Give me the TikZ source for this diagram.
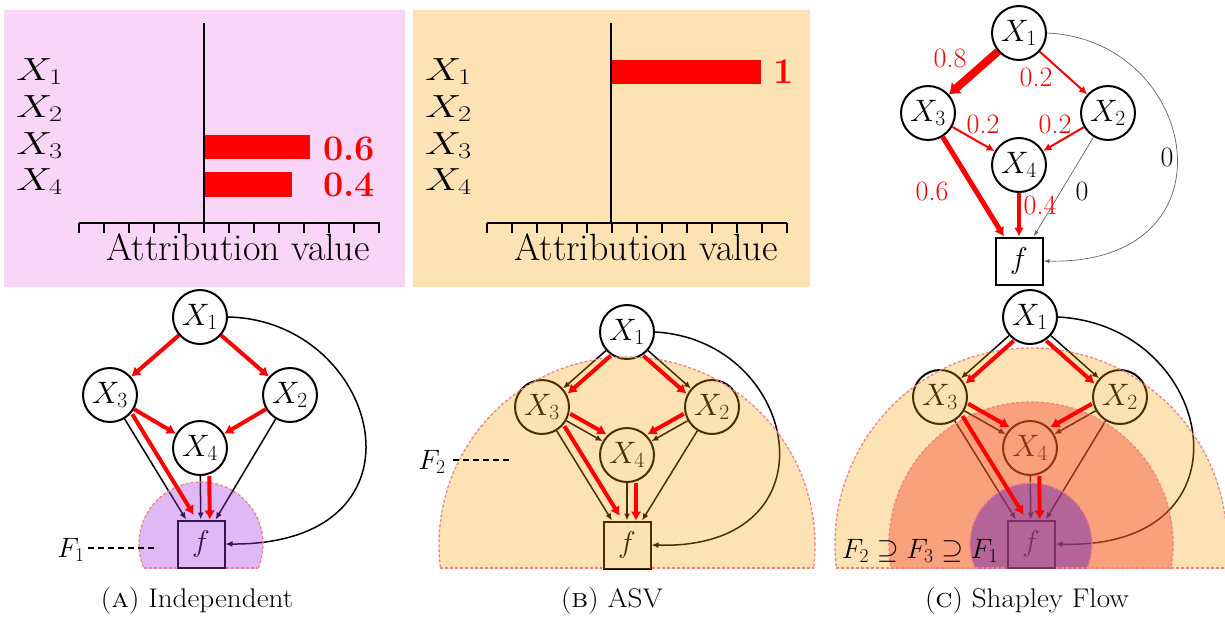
\RequirePackage{fix-cm}
\documentclass[tikz,border=0pt]{standalone}
\usetikzlibrary{arrows.meta}
\definecolor{pinkbg}{RGB}{249,214,247}
\definecolor{tanbg}{RGB}{253,226,180}
\definecolor{tanov}{RGB}{248,158,5}
\definecolor{salov}{RGB}{245,61,42}
\definecolor{purA}{RGB}{161,55,226}
\definecolor{purC}{RGB}{112,42,178}
\definecolor{rimc}{RGB}{244,130,130}
\definecolor{thingray}{RGB}{100,100,100}
\tikzset{
  vnode/.style={circle,draw,line width=2pt,fill=white,minimum size=54pt,inner sep=0pt,font=\fontsize{31}{34}\selectfont},
  fnode/.style={rectangle,draw,line width=2pt,fill=white,minimum size=47pt,inner sep=0pt,font=\fontsize{30}{34}\selectfont},
  redge/.style={red,line width=4pt,-{Latex[length=9pt,width=11pt]}},
  bedge/.style={black,line width=1.5pt,-{Latex[length=7pt,width=6pt]}},
  gedge/.style={thingray,line width=0.7pt,-{Latex[length=6pt,width=4pt]}},
  region/.style={draw=rimc,dash pattern=on 3pt off 2pt,line width=1.3pt},
  flab/.style={font=\fontsize{28}{30}\selectfont},
  elab/.style={font=\fontsize{28}{30}\selectfont,text=red,inner sep=0pt},
  ylab/.style={font=\fontsize{32}{34}\selectfont,anchor=base west,inner sep=0pt},
  axlab/.style={font=\fontsize{38}{40}\selectfont,anchor=base west,inner sep=0pt},
  barval/.style={font=\fontsize{36}{38}\selectfont\bfseries,text=red,anchor=west,inner sep=0pt},
  axline/.style={line width=1.5pt},
  captxt/.style={font=\fontsize{27}{30}\selectfont,anchor=base,inner sep=0pt},
  hint/.style={black,line width=1.5pt,dash pattern=on 6pt off 4pt},
}
\newcommand{\wx}[1]{\scalebox{1.27}[1]{$#1$}}
\newcommand{\wc}[1]{\scalebox{1.08}[1]{#1}}
\begin{document}
\begin{tikzpicture}[x=1pt,y=-1pt]
\useasboundingbox (0,0) rectangle (1225,616);

% ---------- top left bar chart ----------
\fill[pinkbg] (4,10) rectangle (405,287);
\fill[red] (204,135) rectangle (310,159);
\fill[red] (204,172) rectangle (292,197);
\draw[axline] (204,23) -- (204,223);
\draw[axline] (79,223) -- (380,223);
\foreach \i in {0,...,12} \draw[axline] (79+25*\i,223) -- ++(0,10);
\node[ylab] (pa1) at (16,80) {\wx{X_1}};
\node[ylab] (pa2) at (16,117) {\wx{X_2}};
\node[ylab] (pa3) at (16,154) {\wx{X_3}};
\node[ylab] (pa4) at (16,190) {\wx{X_4}};
\node[barval] (pv3) at (323,149) {0.6};
\node[barval] (pv4) at (323,185) {0.4};
\node[axlab] (pax) at (106,260) {Attribution value};

% ---------- top middle bar chart ----------
\fill[tanbg] (413,10) rectangle (810,287);
\fill[red] (611,60) rectangle (761,84);
\draw[axline] (611,23) -- (611,223);
\draw[axline] (487,223) -- (787,223);
\foreach \i in {0,...,12} \draw[axline] (487+25*\i,223) -- ++(0,10);
\node[ylab] (pb1) at (425,80) {\wx{X_1}};
\node[ylab] (pb2) at (425,117) {\wx{X_2}};
\node[ylab] (pb3) at (425,154) {\wx{X_3}};
\node[ylab] (pb4) at (425,190) {\wx{X_4}};
\node[barval] (pv1) at (773,72) {1};
\node[axlab] (pbx) at (514,260) {Attribution value};

% ---------- top right flow graph ----------
\node[vnode] (t1) at (1019,33) {$X_1$};
\node[vnode] (t3) at (928,113) {$X_3$};
\node[vnode] (t2) at (1108,113) {$X_2$};
\node[vnode] (t4) at (1019,165) {$X_4$};
\node[fnode] (tf) at (1019,261) {$f$};
\draw[red,line width=8pt,-{Latex[length=10pt,width=16pt]}] (t1) -- (t3);
\draw[red,line width=2pt,-{Latex[length=8pt,width=8pt]}] (t1) -- (t2);
\draw[red,line width=2pt,-{Latex[length=8pt,width=8pt]}] (t3) -- (t4);
\draw[red,line width=2pt,-{Latex[length=8pt,width=8pt]}] (t2) -- (t4);
\draw[red,line width=5pt,-{Latex[length=9pt,width=11pt]}] (t3) -- (tf);
\draw[red,line width=4pt,-{Latex[length=9pt,width=10pt]}] (t4) -- (tf);
\draw[gedge] (t2) -- (tf);
\draw[gedge] (t1.east) .. controls (1200,40) and (1240,265) .. (tf.east);
\node[elab] (l1) at (950,58) {0.8};
\node[elab] (l2) at (1036,77) {0.2};
\node[elab] (l3) at (983,124) {0.2};
\node[elab] (l4) at (1055,124) {0.2};
\node[elab] (l5) at (932,191) {0.6};
\node[elab] (l6) at (1040,205) {0.4};
\node[elab,text=black] (l7) at (1082,191) {0};
\node[elab,text=black] (l8) at (1167,157) {0};

% ---------- panel A ----------
\node[vnode] (a1) at (200,317) {$X_1$};
\node[vnode] (a3) at (110,395) {$X_3$};
\node[vnode] (a2) at (290,395) {$X_2$};
\node[vnode] (a4) at (200,448) {$X_4$};
\node[fnode] (af) at (201,544) {$f$};
\draw[bedge] (a3) -- (af);
\draw[bedge] (a4) -- (af);
\draw[bedge] (a2) -- (af);
\draw[bedge] (a1.east) .. controls (380,320) and (440,545) .. (af.east);
\begin{scope}
  \clip (0,290) rectangle (408,568);
  \fill[purA,fill opacity=0.35] (af.center) circle (62pt);
  \draw[region] (af.center) circle (62pt);
\end{scope}
\draw[region] (144,568) -- (176,568);
\draw[region] (226,568) -- (258,568);
\draw[redge] (a1) -- (a3);
\draw[redge] (a1) -- (a2);
\draw[redge] (a3) -- (a4);
\draw[redge] (a2) -- (a4);
\draw[redge,transform canvas={shift={(7.7pt,4.7pt)}}] (a3) -- (af);
\draw[redge,transform canvas={shift={(9pt,0pt)}}] (a4) -- (af);
\node[flab] (F1) at (71,550) {$F_1$};
\coordinate (F1a) at (88,548);
\coordinate (F1b) at (158,548);
\draw[hint] (F1a) -- (F1b);
\node[captxt] (capA) at (197,607) {\wc{(\textsc{a}) Independent}};

% ---------- panel B ----------
\node[vnode] (b1) at (627,332) {$X_1$};
\node[vnode] (b3) at (542,407) {$X_3$};
\node[vnode] (b2) at (712,407) {$X_2$};
\node[vnode] (b4) at (627,455) {$X_4$};
\node[fnode] (bf) at (627,545) {$f$};
\draw[bedge] (b1) -- (b3);
\draw[bedge] (b1) -- (b2);
\draw[bedge] (b3) -- (b4);
\draw[bedge] (b2) -- (b4);
\draw[bedge] (b3) -- (bf);
\draw[bedge] (b4) -- (bf);
\draw[bedge] (b2) -- (bf);
\draw[bedge] (b1.east) .. controls (800,340) and (840,550) .. (bf.east);
\begin{scope}
  \clip (412,290) rectangle (818,568);
  \fill[tanov,fill opacity=0.3] (bf.center) circle (188pt);
  \draw[region] (bf.center) circle (188pt);
\end{scope}
\draw[region] (440,568) -- (602,568);
\draw[region] (652,568) -- (814,568);
\draw[redge,transform canvas={shift={(4.6pt,-5.2pt)}}] (b1) -- (b3);
\draw[redge,transform canvas={shift={(-4.6pt,-5.2pt)}}] (b1) -- (b2);
\draw[redge,transform canvas={shift={(3.9pt,7pt)}}] (b3) -- (b4);
\draw[redge,transform canvas={shift={(-3.9pt,7pt)}}] (b2) -- (b4);
\draw[redge,transform canvas={shift={(7.7pt,4.7pt)}}] (b3) -- (bf);
\draw[redge,transform canvas={shift={(9pt,0pt)}}] (b4) -- (bf);
\node[flab] (F2) at (432,462) {$F_2$};
\coordinate (F2a) at (453,460);
\coordinate (F2b) at (510,460);
\draw[hint] (F2a) -- (F2b);
\node[captxt] (capB) at (612,607) {\wc{(\textsc{b}) ASV}};

% ---------- panel C ----------
\node[vnode] (c1) at (1030,317) {$X_1$};
\node[vnode] (c3) at (940,397) {$X_3$};
\node[vnode] (c2) at (1120,397) {$X_2$};
\node[vnode] (c4) at (1030,448) {$X_4$};
\node[fnode] (cf) at (1031,544) {$f$};
\draw[bedge] (c1) -- (c3);
\draw[bedge] (c1) -- (c2);
\draw[bedge] (c3) -- (c4);
\draw[bedge] (c2) -- (c4);
\draw[bedge] (c3) -- (cf);
\draw[bedge] (c4) -- (cf);
\draw[bedge] (c2) -- (cf);
\draw[bedge] (c1.east) .. controls (1215,325) and (1260,550) .. (cf.east);
\begin{scope}
  \clip (822,290) rectangle (1225,568);
  \fill[tanov,fill opacity=0.3] (cf.center) circle (196pt);
  \draw[region] (cf.center) circle (196pt);
  \fill[salov,fill opacity=0.4] (cf.center) circle (142pt);
  \draw[region] (cf.center) circle (142pt);
  \fill[purC,fill opacity=0.5] (cf.center) circle (61pt);
  \draw[region] (cf.center) circle (61pt);
\end{scope}
\draw[region] (836,568) -- (1006,568);
\draw[region] (1056,568) -- (1225,568);
\draw[redge,transform canvas={shift={(4.6pt,-5.2pt)}}] (c1) -- (c3);
\draw[redge,transform canvas={shift={(-4.6pt,-5.2pt)}}] (c1) -- (c2);
\draw[redge,transform canvas={shift={(3.9pt,7pt)}}] (c3) -- (c4);
\draw[redge,transform canvas={shift={(-3.9pt,7pt)}}] (c2) -- (c4);
\draw[redge,transform canvas={shift={(7.7pt,4.7pt)}}] (c3) -- (cf);
\draw[redge,transform canvas={shift={(9pt,0pt)}}] (c4) -- (cf);
\node[flab,anchor=base] (F231) at (920,558) {$F_2\supseteq F_3\supseteq F_1$};
\node[captxt] (capC) at (1027,607) {\wc{(\textsc{c}) Shapley Flow}};
\end{tikzpicture}
\end{document}
